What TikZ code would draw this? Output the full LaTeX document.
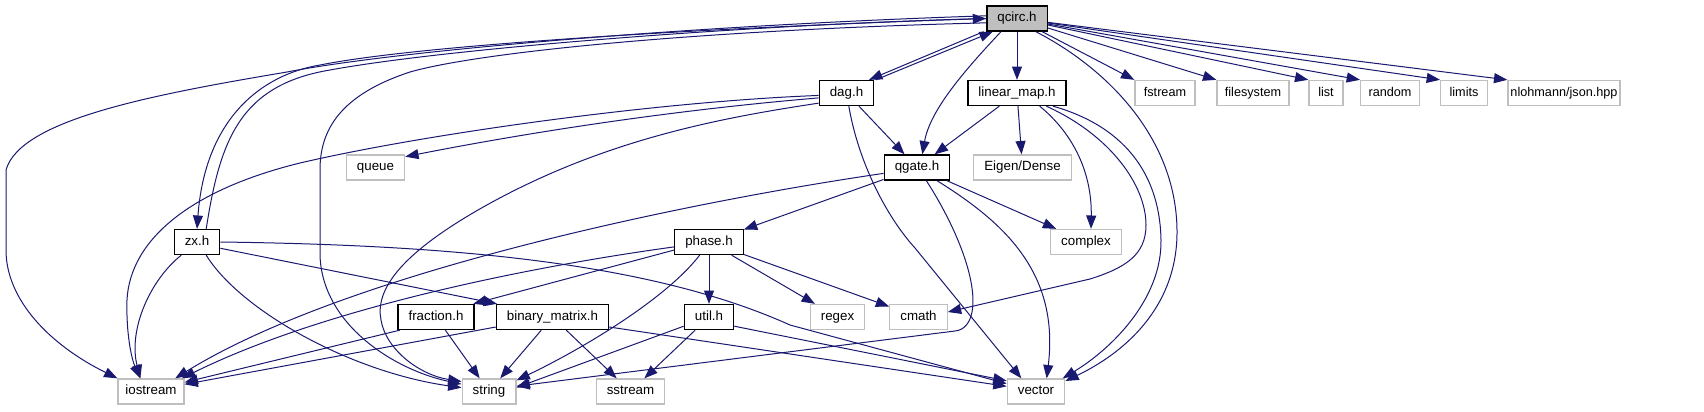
\documentclass[tikz,border=0pt]{standalone}
\usepackage{fontspec}
\setmainfont{Liberation Sans}
\usetikzlibrary{arrows.meta}
\definecolor{edgeblue}{HTML}{191970}
\definecolor{sysgrey}{HTML}{BFBFBF}
\begin{document}
\begin{tikzpicture}[x=0.75pt, y=-0.75pt,
  every node/.style={draw, fill=white, font=\fontsize{10}{12}\selectfont, inner xsep=7.9pt, inner ysep=0pt, minimum height=18.75pt, text height=7.2pt, text depth=2.1pt},
  hdr/.style={draw=black, line width=1pt},
  sys/.style={draw=sysgrey, line width=1pt},
  sysrow/.style={sys, inner xsep=0.5pt, font=\fontsize{9.5}{11}\selectfont},
  dep/.style={draw=edgeblue, line width=0.75pt, -{Triangle[length=10pt,width=7.5pt]}}]
  \useasboundingbox (0,0) rectangle (1704,411);
  \node[hdr, fill=sysgrey] (qcirc) at (1017,18.5) {qcirc.h};
  \node[hdr] (dag) at (846.5,93) {dag.h};
  \node[hdr] (linmap) at (1017,93) {linear\_map.h};
  \node[sysrow, minimum width=45pt] (fstream) at (1165,93) {fstream};
  \node[sysrow, minimum width=54pt] (filesystem) at (1253,93) {filesystem};
  \node[sysrow, minimum width=25.5pt] (list) at (1326,93) {list};
  \node[sysrow, minimum width=44pt] (random) at (1390,93) {random};
  \node[sysrow, minimum width=35pt] (limits) at (1464,93) {limits};
  \node[sysrow, minimum width=84pt] (json) at (1564,93) {nlohmann/json.hpp};
  \node[sys] (queue) at (375.5,167.5) {queue};
  \node[hdr] (qgate) at (917,167.5) {qgate.h};
  \node[sys] (eigen) at (1022.5,167.5) {Eigen/Dense};
  \node[hdr] (zx) at (197,242) {zx.h};
  \node[hdr] (phase) at (709,242) {phase.h};
  \node[sys] (complex) at (1086,242) {complex};
  \node[hdr] (fraction) at (436,317) {fraction.h};
  \node[hdr] (binmat) at (552.5,317) {binary\_matrix.h};
  \node[hdr] (util) at (709,317) {util.h};
  \node[sys] (regex) at (837.5,317) {regex};
  \node[sys] (cmath) at (918.5,317) {cmath};
  \node[sys, inner xsep=5.5pt] (iostream) at (151,391.5) {iostream};
  \node[sys] (string) at (489,391.5) {string};
  \node[sys] (sstream) at (630.5,391.5) {sstream};
  \node[sys] (vector) at (1036,391.5) {vector};
  % qcirc.h
  \draw[dep] (qcirc.175) .. controls (700,25) and (400,50) .. (287,72) .. controls (150,95) and (20,120) .. (6,170) -- (6,250) .. controls (6,300) and (50,345) .. (iostream.north west);
  \draw[dep] (qcirc.180) .. controls (700,28) and (420,45) .. (320,65) .. controls (260,75) and (205,120) .. (zx.north);
  \draw[dep] (zx.55) .. controls (220,140) and (240,85) .. (330,70) .. controls (450,48) and (750,25) .. (qcirc.west);
  \draw[dep] (qcirc.188) .. controls (700,30) and (480,52) .. (410,72) .. controls (340,95) and (320,130) .. (320,170) -- (320,255) .. controls (322,325) and (395,370) .. (string.165);
  \draw[dep] ([xshift=-2pt]qcirc.south west) -- ([xshift=-4pt]dag.north east);
  \draw[dep] ([xshift=1pt]dag.north east) -- ([xshift=5pt]qcirc.south west);
  \draw[dep] ([xshift=-12pt]qcirc.south) .. controls (965,70) and (930,110) .. ([xshift=4pt]qgate.north);
  \draw[dep] (qcirc) -- (linmap);
  \foreach \n in {fstream,filesystem,list,random,limits,json}
    \draw[dep] (qcirc) -- (\n.north west);
  \draw[dep] (qcirc.-35) .. controls (1110,70) and (1176,140) .. (1177,230) .. controls (1178,310) and (1120,355) .. ([yshift=-2pt]vector.north east);
  % dag.h
  \draw[dep] (dag.185) .. controls (650,102) and (420,135) .. (300,163) .. controls (190,190) and (130,240) .. (127,300) .. controls (126,335) and (132,360) .. ([xshift=-8pt]iostream.north);
  \draw[dep] (dag.190) .. controls (650,112) and (500,138) .. (queue.20);
  \draw[dep] (dag.200) .. controls (720,118) and (600,140) .. (478,210) .. controls (400,255) and (375,290) .. (381,320) .. controls (386,350) and (420,375) .. (string.160);
  \draw[dep] (dag) -- (qgate);
  \draw[dep] (dag.-80) .. controls (858,160) and (885,215) .. (915,248) -- ([xshift=-11pt]vector.north);
  % linear_map.h
  \draw[dep] (linmap) -- (qgate);
  \draw[dep] (linmap) -- (eigen);
  \draw[dep] ([xshift=17pt]linmap.south) .. controls (1075,135) and (1092,175) .. ([xshift=3.75pt]complex.north);
  \draw[dep] ([xshift=22pt]linmap.south) .. controls (1110,135) and (1146,185) .. (1146,225) .. controls (1146,255) and (1125,268) .. (1090,279) -- ([yshift=3.75pt]cmath.east);
  \draw[dep] ([xshift=27pt]linmap.south) .. controls (1130,128) and (1160,180) .. (1161,240) .. controls (1162,300) and (1110,350) .. ([xshift=-2pt]vector.north east);
  % qgate.h
  \draw[dep] (qgate) -- (phase);
  \draw[dep] (qgate.190) .. controls (700,200) and (350,270) .. ([xshift=-7pt]iostream.north east);
  \draw[dep] ([xshift=7pt]qgate.south) .. controls (955,225) and (978,280) .. (972,312) .. controls (970,322) and (965,330) .. (955,331) -- ([yshift=4pt]string.east);
  \draw[dep] ([xshift=15pt]qgate.south) .. controls (1000,220) and (1060,270) .. ([xshift=8pt]vector.north);
  \draw[dep] (qgate) -- (complex);
  % zx.h
  \draw[dep] (zx.220) .. controls (150,280) and (128,330) .. ([xshift=-8pt]iostream.north);
  \draw[dep] (zx.-55) .. controls (240,310) and (350,372) .. (string.172);
  \draw[dep] (zx.-15) -- ([xshift=1pt]binmat.north west);
  \draw[dep] (zx.east) .. controls (450,245) and (650,262) .. (790,325) -- (vector.165);
  % phase.h
  \draw[dep] (phase.193) -- ([xshift=-1pt]fraction.north east);
  \draw[dep] (phase.188) .. controls (520,268) and (320,310) .. ([xshift=-2pt]iostream.north east);
  \draw[dep] ([xshift=-7pt]phase.south) .. controls (665,300) and (580,350) .. ([yshift=-1.5pt]string.north east);
  \draw[dep] (phase) -- (util);
  \draw[dep] (phase) -- (regex);
  \draw[dep] (phase) -- (cmath);
  % fraction.h, binary_matrix.h, util.h
  \draw[dep] (fraction.200) -- ([yshift=-3pt]iostream.north east);
  \draw[dep] (fraction) -- (string);
  \draw[dep] (binmat.190) -- ([yshift=-4.5pt]iostream.north east);
  \draw[dep] (binmat) -- (string);
  \draw[dep] (binmat) -- (sstream);
  \draw[dep] (binmat.-10) -- (vector.170);
  \draw[dep] (util.200) -- ([yshift=3pt]string.east);
  \draw[dep] (util) -- (sstream);
  \draw[dep] (util.-20) -- (vector.160);
\end{tikzpicture}
\end{document}
